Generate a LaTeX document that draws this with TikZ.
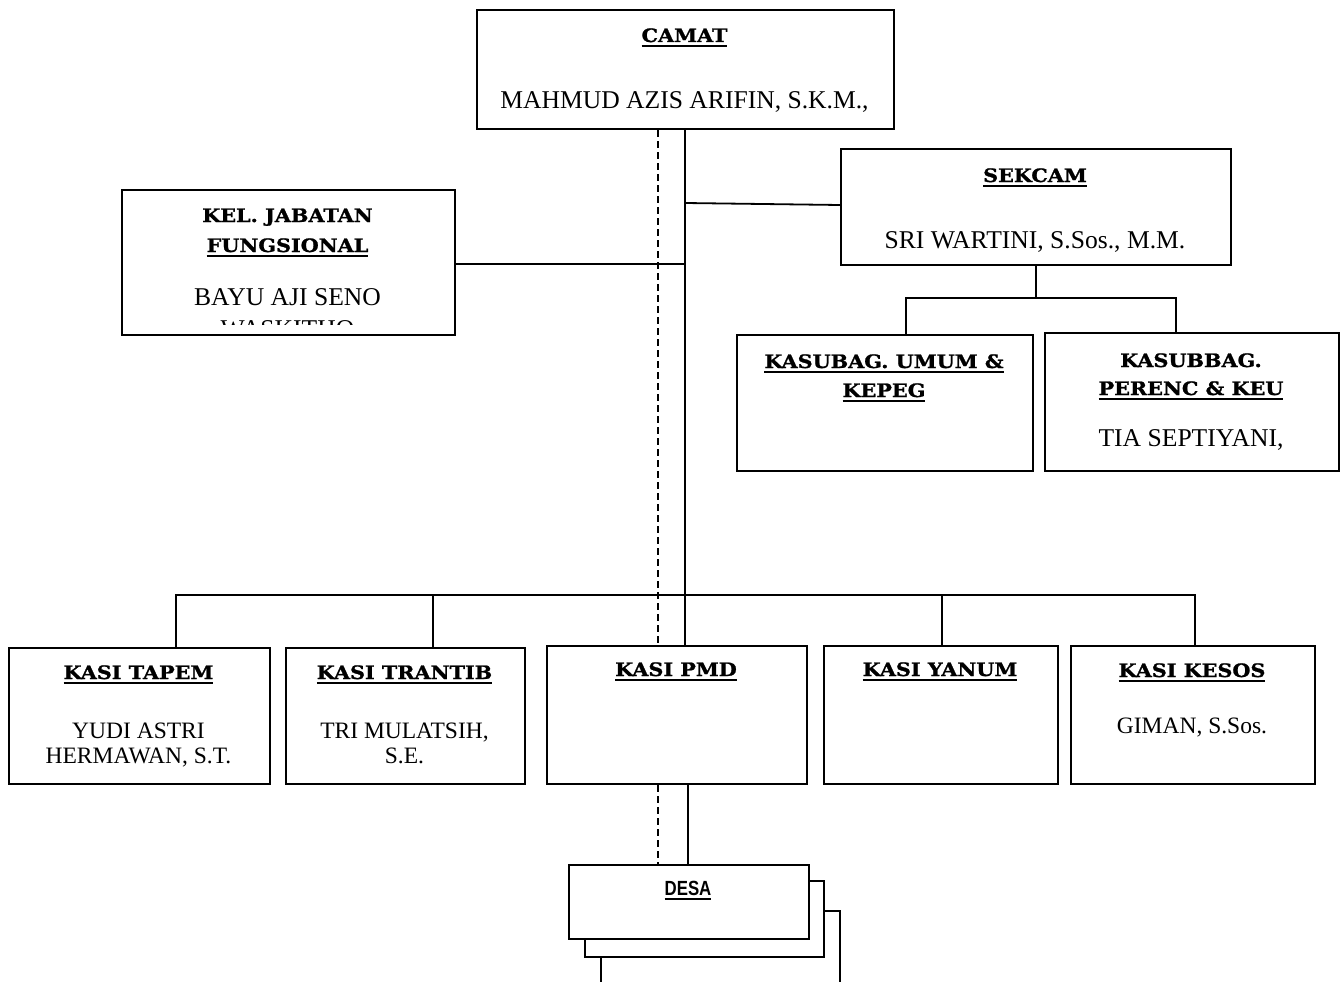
\documentclass[tikz,border=0pt]{standalone}
\usepackage{fontspec}
\setmainfont{Liberation Serif}
\newfontfamily\tfont[FakeStretch=1.12,BoldFeatures={FakeBold=1.2}]{DejaVu Serif}
\newfontfamily\dfont[FakeStretch=0.82]{Liberation Sans}
\newcommand\ulx[1]{\setbox0=\hbox{#1}\rlap{\rule[-5pt]{\wd0}{2pt}}\box0}
\begin{document}
\begin{tikzpicture}[x=1pt,y=-1pt,
  box/.style={draw,line width=2.2pt,fill=white,inner sep=0pt,anchor=north west},
  conn/.style={line width=1.8pt},
  dconn/.style={line width=1.8pt,dash pattern=on 7pt off 4pt},
  ttl/.style={anchor=base,inner sep=0pt,font=\tfont\bfseries\fontsize{18.5}{22}\selectfont},
  nm/.style={anchor=base,inner sep=0pt,font=\fontsize{25.6}{30}\selectfont},
  nms/.style={anchor=base,inner sep=0pt,font=\fontsize{23.5}{28}\selectfont}]
\useasboundingbox (0,0) rectangle (1344,982);
% boxes
\node[box,minimum width=417pt,minimum height=119pt] (camat) at (476,9) {};
\node[box,minimum width=390pt,minimum height=116pt] (sekcam) at (840,148) {};
\node[box,minimum width=333pt,minimum height=145pt] (kel) at (121,189) {};
\node[box,minimum width=296pt,minimum height=136pt] (umum) at (736,334) {};
\node[box,minimum width=294pt,minimum height=138pt] (perenc) at (1044,332) {};
\node[box,minimum width=261pt,minimum height=136pt] (tapem) at (8,647) {};
\node[box,minimum width=239pt,minimum height=136pt] (trantib) at (285,647) {};
\node[box,minimum width=260pt,minimum height=138pt] (pmd) at (546,645) {};
\node[box,minimum width=234pt,minimum height=138pt] (yanum) at (823,645) {};
\node[box,minimum width=244pt,minimum height=138pt] (kesos) at (1070,645) {};
% desa stack
\node[box,minimum width=239pt,minimum height=90pt] (desac) at (600,910) {};
\node[box,minimum width=239pt,minimum height=76pt] (desab) at (584,880) {};
\node[box,minimum width=240pt,minimum height=74pt] (desa) at (568,864) {};
% junction coordinates
\coordinate (main) at (685,0);
\coordinate (mainb) at (688,0);
\coordinate (dash) at (658,0);
\coordinate (jsek) at (685,203);
\coordinate (jkel) at (685,264);
\coordinate (bus) at (0,595);
\coordinate (sbus) at (0,298);
\coordinate (xu) at (906,0);
\coordinate (xp) at (1176,0);
\coordinate (xt) at (176,0);
\coordinate (xr) at (433,0);
\coordinate (xy) at (942,0);
\coordinate (xk) at (1195,0);
% connectors
\draw[conn] (camat.south -| main) -- (pmd.north -| main);
\draw[dconn] (camat.south -| dash) -- (pmd.north -| dash);
\draw[conn] (jsek) -- (sekcam.west |- 0,205);
\draw[conn] (jkel) -- (kel.east |- jkel);
\draw[conn] (xt |- tapem.north) -- (xt |- bus) -- (xk |- bus) -- (xk |- kesos.north);
\draw[conn] (xr |- bus) -- (xr |- trantib.north);
\draw[conn] (xy |- bus) -- (xy |- yanum.north);
\draw[conn] (sekcam.south) -- (sekcam.south |- sbus);
\draw[conn] (xu |- umum.north) -- (xu |- sbus) -- (xp |- sbus) -- (xp |- perenc.north);
\draw[conn] (pmd.south -| mainb) -- (desa.north -| mainb);
\draw[dconn] (pmd.south -| dash) -- (desa.north -| dash);
% texts
\node[ttl] (t1) at (684.5,42) {\ulx{CAMAT}};
\node[nm] (n1) at (684.5,108) {MAHMUD AZIS ARIFIN, S.K.M.,};
\node[ttl] (t2) at (1035,182) {\ulx{SEKCAM}};
\node[nm] (n2) at (1035,248) {SRI WARTINI, S.Sos., M.M.};
\node[ttl] (t3a) at (287.5,222) {KEL. JABATAN};
\node[ttl] (t3b) at (287.5,252) {\ulx{FUNGSIONAL}};
\node[nm] (n3a) at (287.5,305) {BAYU AJI SENO};
\begin{scope}
\clip (kel.north west) rectangle (kel.east |- 0,324);
\node[nm] (n3b) at (287.5,337) {WASKITHO};
\end{scope}
\node[ttl] (t4a) at (884,368) {\ulx{KASUBAG. UMUM \&}};
\node[ttl] (t4b) at (884,397) {\ulx{KEPEG}};
\node[ttl] (t5a) at (1191,367) {KASUBBAG.};
\node[ttl] (t5b) at (1191,395) {\ulx{PERENC \& KEU}};
\node[nm] (n5) at (1191,446) {TIA SEPTIYANI,};
\node[ttl] (t6) at (138.5,679) {\ulx{KASI TAPEM}};
\node[nms] (n6a) at (138.5,738) {YUDI ASTRI};
\node[nms] (n6b) at (138.5,763) {HERMAWAN, S.T.};
\node[ttl] (t7) at (404.5,679) {\ulx{KASI TRANTIB}};
\node[nms] (n7a) at (404.5,738) {TRI MULATSIH,};
\node[nms] (n7b) at (404.5,763) {S.E.};
\node[ttl] (t8) at (676,676) {\ulx{KASI PMD}};
\node[ttl] (t9) at (940,676) {\ulx{KASI YANUM}};
\node[ttl] (t10) at (1192,677) {\ulx{KASI KESOS}};
\node[nms] (n10) at (1192,733) {GIMAN, S.Sos.};
\node[anchor=base,inner sep=0pt,font=\dfont\bfseries\fontsize{20.5}{24}\selectfont] (t11) at (688,895) {\ulx{DESA}};
\end{tikzpicture}
\end{document}
